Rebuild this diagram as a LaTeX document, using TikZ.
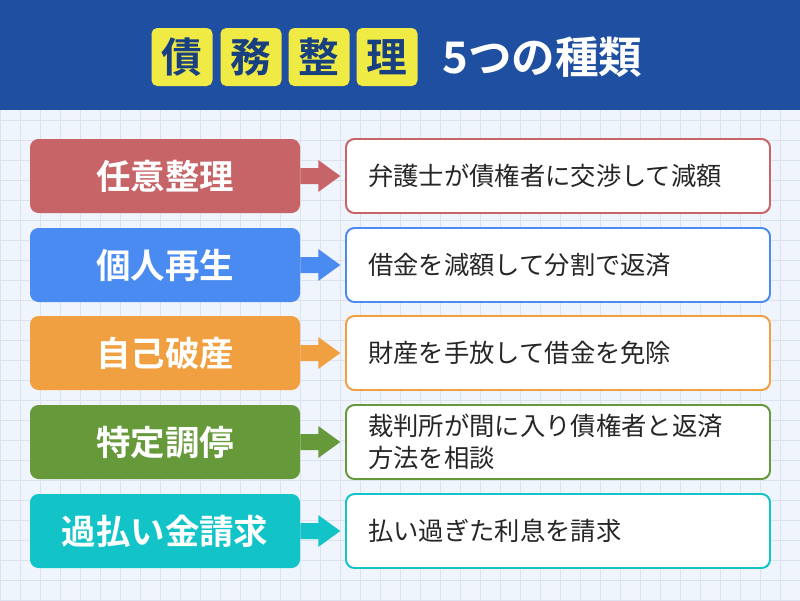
\documentclass[tikz,border=0pt]{standalone}
\usepackage{fontspec}
\newfontfamily\jp{Noto Sans CJK JP}
\newfontfamily\jpb{Noto Sans CJK JP Bold}
\usetikzlibrary{positioning}
\definecolor{hdblue}{HTML}{1E4FA0}
\definecolor{ttyellow}{HTML}{F0EA45}
\definecolor{bgpale}{HTML}{F0F5FD}
\definecolor{gridline}{HTML}{DCE2EE}
\definecolor{cred}{HTML}{C66468}
\definecolor{cblue}{HTML}{4A8BF2}
\definecolor{corange}{HTML}{F0A040}
\definecolor{cgreen}{HTML}{66993A}
\definecolor{cteal}{HTML}{12C4C8}
\tikzset{
  kind/.style={rounded corners=6, minimum width=270*0.025cm, minimum height=74*0.025cm, inner sep=0pt,
    text=white, font=\jpb\fontsize{24.5}{27}\selectfont},
  desc/.style={draw=#1, line width=1.4pt, fill=white, rounded corners=6, minimum width=424*0.025cm,
    minimum height=74*0.025cm, inner sep=0pt},
  charbox/.style={fill=ttyellow, rounded corners=4, minimum width=61*0.025cm, minimum height=58*0.025cm,
    inner sep=0pt, font=\jpb\fontsize{29}{30}\selectfont, text=hdblue!80!black}
}
\begin{document}
\begin{tikzpicture}[x=0.025cm,y=-0.025cm]
  \useasboundingbox (0,0) rectangle (800,600);
  % Hintergrund mit Raster
  \fill[bgpale] (0,0) rectangle (800,600);
  \foreach \gx in {0,20,...,800} \draw[gridline, line width=0.6pt] (\gx,110) -- (\gx,600);
  \foreach \gy in {120,140,...,600} \draw[gridline, line width=0.6pt] (0,\gy) -- (800,\gy);
  % Kopfzeile
  \fill[hdblue] (0,0) rectangle (800,110);
  \node[charbox] (t1) at (182,57) {債};
  \node[charbox] (t2) at (251,57) {務};
  \node[charbox] (t3) at (319,57) {整};
  \node[charbox] (t4) at (387,57) {理};
  \node[anchor=west, inner sep=0pt, text=white, font=\jpb\fontsize{31}{33}\selectfont] (tt) at (442,57) {5つの種類};
  % Zeilen
  \foreach \y/\c/\k/\d [count=\i] in {
      176/cred/任意整理/弁護士が債権者に交渉して減額,
      265/cblue/個人再生/借金を減額して分割で返済,
      353/corange/自己破産/財産を手放して借金を免除,
      442/cgreen/特定調停/{裁判所が間に入り債権者と返済\\方法を相談},
      531/cteal/過払い金請求/払い過ぎた利息を請求} {
    \node[kind, fill=\c] (k\i) at (165,\y) {\k};
    \node[desc=\c] (d\i) at (558,\y) {};
    \node[anchor=west, align=left, inner sep=0pt, text=black!85,
      font=\jp\fontsize{18}{23}\selectfont] (l\i) at (368,\y) {\d};
    \fill[\c] (k\i.east) ++(0,-8) -- ++(18,0) -- ++(0,-8) -- ++(22,16) -- ++(-22,16)
      -- ++(0,-8) -- ++(-18,0) -- cycle;
  }
\end{tikzpicture}
\end{document}
